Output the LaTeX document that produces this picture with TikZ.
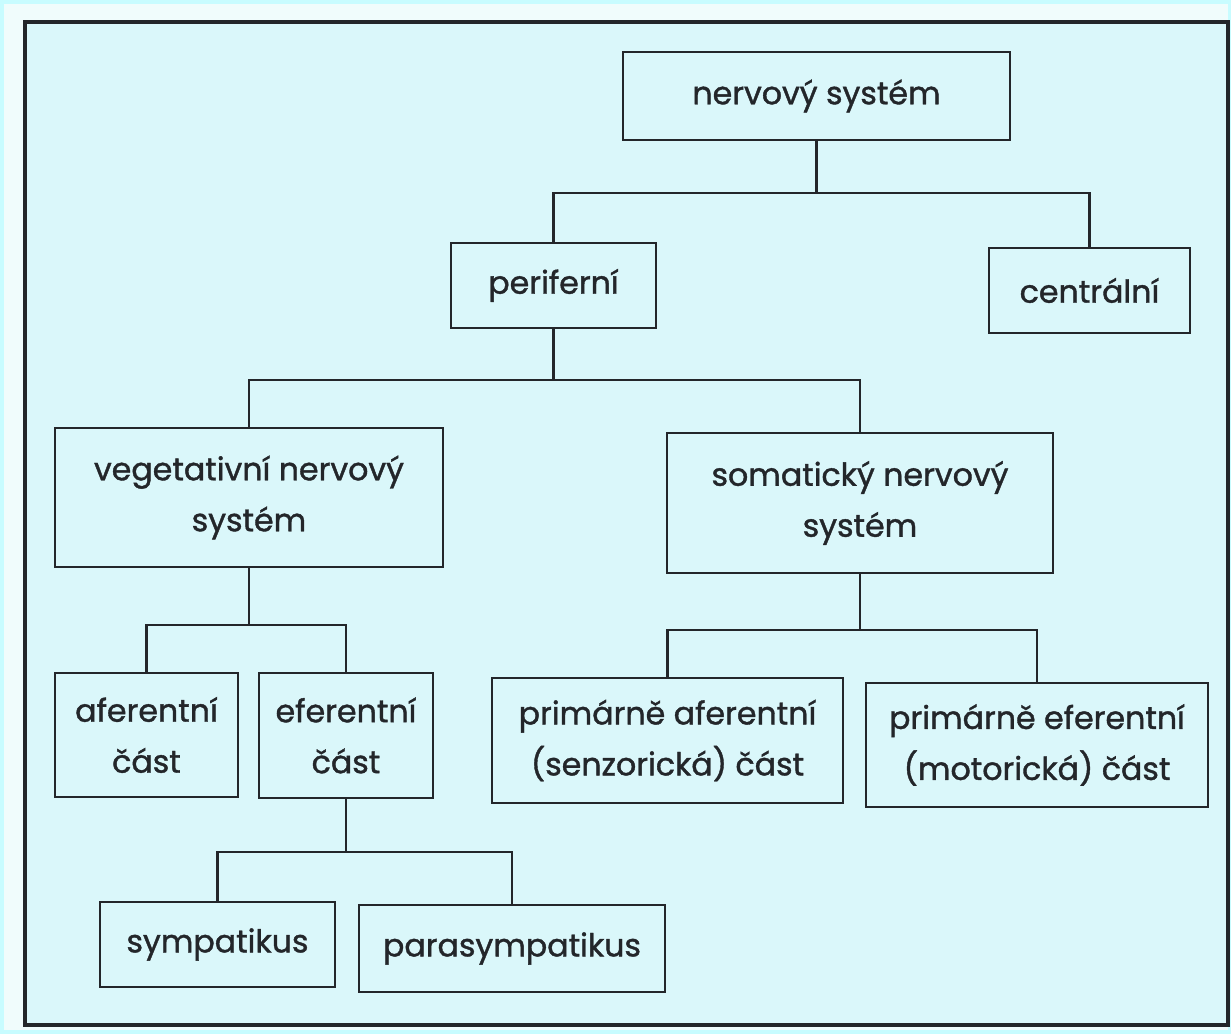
\documentclass[tikz,border=0pt]{standalone}
\usepackage{fontspec}
\setmainfont{Poppins}
\newfontfamily\boxfont{Poppins}[FakeBold=1.2]
\usepackage{tikz}
\usetikzlibrary{positioning,calc}
\usepackage{xcolor}

\definecolor{scanedge}{RGB}{200,252,255}
\definecolor{paperout}{RGB}{240,252,252}
\definecolor{paper}{RGB}{218,247,250}
\definecolor{ink}{RGB}{35,38,42}

\tikzset{
  box/.style={draw=ink, line width=1.6pt, align=center, inner sep=0pt,
    text=ink, font=\boxfont\fontsize{18}{29}\selectfont},
  link/.style={draw=ink, line width=1.3pt},
}

\begin{document}
\begin{tikzpicture}[scale=1]
    \useasboundingbox (0,0) rectangle (24.62,20.68);
    % Page and frame
    \fill[scanedge] (0,0) rectangle (24.62,20.68);
    \fill[paperout] (0.08,0.08) rectangle (24.56,20.6);
    \fill[paper] (0.5,0.18) rectangle (24.56,20.24);
    \draw[ink, line width=2.2pt] (0.5,0.18) rectangle (24.56,20.24);

    % Top level
    \node[box, minimum width=7.74cm, minimum height=1.76cm] (nerv) at (16.33,18.76) {nervový systém};
    \node[box, minimum width=4.1cm, minimum height=1.7cm] (perif) at (11.07,14.97) {periferní};
    \node[box, minimum width=4.02cm, minimum height=1.7cm] (centr) at (21.79,14.87) {centrální};

    % Second level
    \node[box, minimum width=7.76cm, minimum height=2.78cm] (veget) at (4.98,10.73) {vegetativní nervový\\systém};
    \node[box, minimum width=7.72cm, minimum height=2.8cm] (somat) at (17.2,10.62) {somatický nervový\\systém};

    % Third level
    \node[box, minimum width=3.66cm, minimum height=2.48cm] (afer) at (2.93,5.98) {aferentní\\část};
    \node[box, minimum width=3.48cm, minimum height=2.5cm] (efer) at (6.92,5.97) {eferentní\\část};
    \node[box, minimum width=7.02cm, minimum height=2.5cm] (primaf) at (13.35,5.87) {primárně aferentní\\(senzorická) část};
    \node[box, minimum width=6.84cm, minimum height=2.48cm] (primef) at (20.74,5.78) {primárně eferentní\\(motorická) část};

    % Bottom level
    \node[box, minimum width=4.7cm, minimum height=1.7cm] (symp) at (4.35,1.79) {sympatikus};
    \node[box, minimum width=6.12cm, minimum height=1.74cm] (parasymp) at (10.24,1.71) {parasympatikus};

    % Connectors
    \draw[link] (nerv.south) -- (nerv.south |- 0,16.82) coordinate (b1);
    \draw[link] (perif.north) |- (b1) -| (centr.north);
    \draw[link] (perif.south) -- (perif.south |- 0,13.08) coordinate (b2);
    \draw[link] (veget.north) |- (b2) -| (somat.north);
    \draw[link] (veget.south) -- (veget.south |- 0,8.18) coordinate (b3);
    \draw[link] (afer.north) |- (b3) -| (efer.north);
    \draw[link] (somat.south) -- (somat.south |- 0,8.08) coordinate (b4);
    \draw[link] (primaf.north) |- (b4) -| (primef.north);
    \draw[link] (efer.south) -- (efer.south |- 0,3.64) coordinate (b5);
    \draw[link] (symp.north) |- (b5) -| (parasymp.north);
\end{tikzpicture}
\end{document}
